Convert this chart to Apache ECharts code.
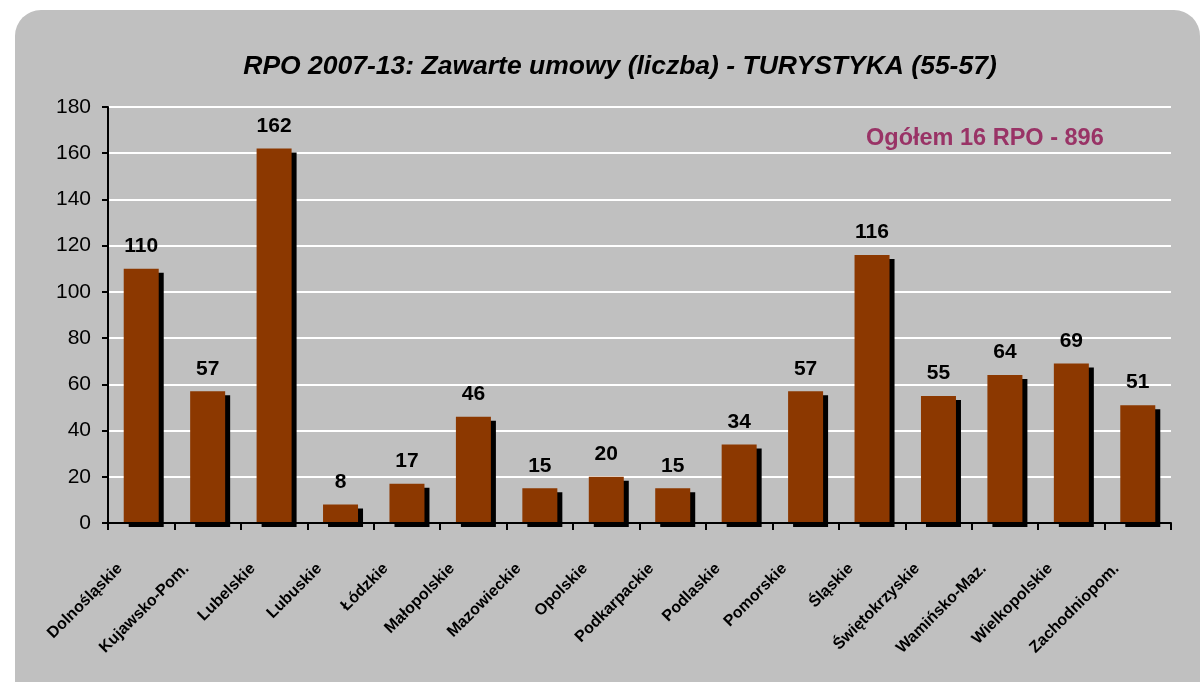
<!DOCTYPE html>
<html>
<head>
<meta charset="utf-8">
<script src="https://cdn.jsdelivr.net/npm/echarts@6/dist/echarts.min.js"></script>
<style>
  html, body { margin: 0; padding: 0; background: #fff; }
  #chart { width: 1202px; height: 682px; }
</style>
</head>
<body>
<div id="chart"></div>
<script>
const categories = ['Dolnośląskie', 'Kujawsko-Pom.', 'Lubelskie', 'Lubuskie', 'Łódzkie', 'Małopolskie',
  'Mazowieckie', 'Opolskie', 'Podkarpackie', 'Podlaskie', 'Pomorskie', 'Śląskie',
  'Świętokrzyskie', 'Wamińsko-Maz.', 'Wielkopolskie', 'Zachodniopom.']
const umowy = [110, 57, 162, 8, 17, 46, 15, 20, 15, 34, 57, 116, 55, 64, 69, 51]
const yTicks = [0, 20, 40, 60, 80, 100, 120, 140, 160, 180]

const chart = echarts.init(document.getElementById('chart'))
chart.setOption({
  animation: false,
  textStyle: { fontFamily: 'Liberation Sans, Arial, sans-serif' },
  graphic: [{
    type: 'rect',
    z: -10,
    shape: { x: 15, y: 10, width: 1185, height: 700, r: 26 },
    style: { fill: '#c0c0c0' }
  }, {
    type: 'text',
    left: 866,
    top: 127,
    style: {
      text: 'Ogółem 16 RPO - 896',
      fill: '#993366',
      font: 'bold 23.5px "Liberation Sans", Arial, sans-serif'
    }
  }],
  title: {
    text: 'RPO 2007-13: Zawarte umowy (liczba) - TURYSTYKA (55-57)',
    left: 615,
    textAlign: 'center',
    top: 48,
    textStyle: { fontSize: 26.5, fontWeight: 'bold', fontStyle: 'italic', color: '#000' }
  },
  grid: { left: 108, right: 31, top: 107, bottom: 159, containLabel: false },
  xAxis: {
    type: 'category',
    data: categories,
    z: 5,
    axisLine: { lineStyle: { color: '#000', width: 2 } },
    axisTick: { show: true, length: 7, lineStyle: { color: '#000', width: 2 } },
    axisLabel: {
      interval: 0,
      rotate: 45,
      margin: 22,
      padding: [0, 30, 0, 0],
      color: '#000',
      fontSize: 16,
      fontWeight: 'bold'
    }
  },
  yAxis: {
    type: 'value',
    min: yTicks[0],
    max: yTicks[yTicks.length - 1],
    interval: 20,
    axisLine: { show: true, lineStyle: { color: '#000', width: 2 } },
    axisTick: { show: true, length: 6, lineStyle: { color: '#000', width: 2 } },
    axisLabel: { color: '#000', fontSize: 21, margin: 17 },
    splitLine: { lineStyle: { color: '#fff', width: 2 } }
  },
  series: [{
    type: 'bar',
    data: umowy,
    barWidth: 35,
    itemStyle: {
      color: '#8c3800',
      shadowColor: '#000',
      shadowOffsetX: 5,
      shadowOffsetY: 4,
      shadowBlur: 0
    },
    label: {
      show: true,
      position: 'top',
      distance: 12,
      color: '#000',
      fontSize: 21,
      fontWeight: 'bold'
    }
  }]
})
</script>
</body>
</html>
